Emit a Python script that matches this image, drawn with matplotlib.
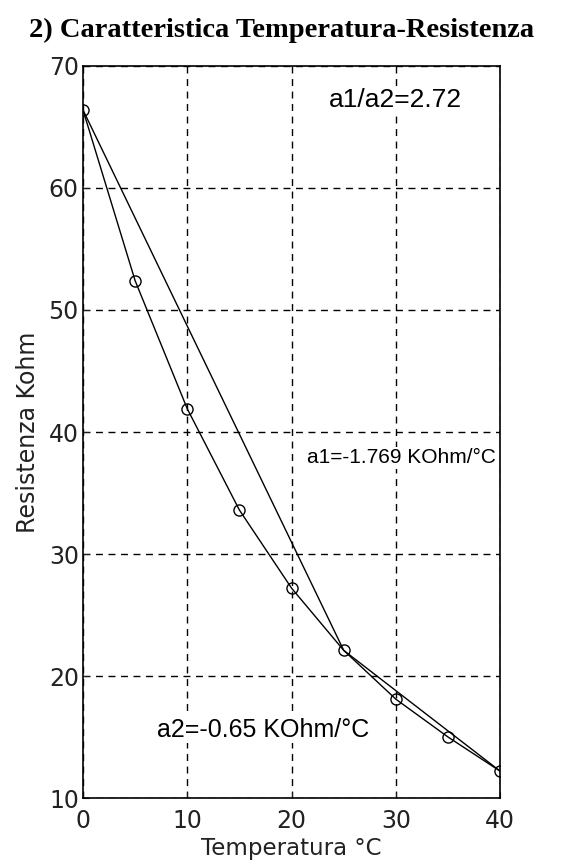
import matplotlib
matplotlib.use("Agg")
import matplotlib.pyplot as plt

# misure: temperatura (gradi C) e resistenza (KOhm)
temp = [0, 5, 10, 15, 20, 25, 30, 35, 40]
res = [66.4, 52.4, 41.9, 33.6, 27.2, 22.1, 18.1, 15.0, 12.2]

# spezzata di linearizzazione
lin_t = [0, 25, 40]
lin_r = [66.4, 22.1, 12.2]

fig = plt.figure(figsize=(5.63, 8.66), dpi=100)
ax = fig.add_axes([0.1474, 0.0785, 0.741, 0.8453])

ax.plot(temp, res, color='black', lw=1.0, marker='o', mfc='none', mec='black', ms=8, mew=1.0)
ax.plot(lin_t, lin_r, color='black', lw=1.0)

ax.set_xlim(0, 40)
ax.set_ylim(10, 70)
ax.set_xticks([0, 10, 20, 30, 40])
ax.set_yticks([10, 20, 30, 40, 50, 60, 70])
ax.grid(True, color='black', linestyle=(0, (5, 4)), lw=1.0)
ax.tick_params(direction='in', length=4, labelsize=17, colors='#222222')
ax.tick_params(axis='x', pad=8)
ax.tick_params(axis='y', pad=3)
for s in ax.spines.values():
    s.set_linewidth(1.2)
    s.set_zorder(5)

ax.set_xlabel('Temperatura °C', fontsize=16.5, labelpad=3, color='#222222')
ax.set_ylabel('Resistenza Kohm', fontsize=17, labelpad=6, color='#222222')

box = dict(facecolor='white', edgecolor='none', pad=1)
fnt = dict(family='Liberation Sans', color='black', bbox=box)
ax.text(30.0, 67.2, 'a1/a2=2.72', ha='center', va='center', fontsize=19, **fnt)
ax.text(21.5, 37.9, 'a1=-1.769 KOhm/°C', ha='left', va='center', fontsize=15, **fnt)
ax.text(7.1, 15.6, 'a2=-0.65 KOhm/°C', ha='left', va='center', fontsize=18, **fnt)

fig.text(0.5, 0.965, '2) Caratteristica Temperatura-Resistenza', ha='center', va='center',
         family='Liberation Serif', fontweight='bold', fontsize=20.5)

fig.savefig('out.png', dpi=100)
